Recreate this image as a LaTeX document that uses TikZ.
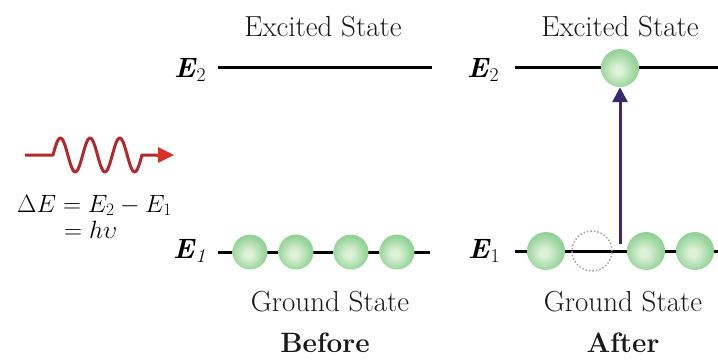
\RequirePackage{fix-cm}
\documentclass[tikz,border=0pt]{standalone}
\usetikzlibrary{arrows.meta}
\definecolor{wavered}{RGB}{178,40,44}
\definecolor{arrowred}{RGB}{218,48,40}
\definecolor{arrowpurple}{RGB}{58,42,108}
\definecolor{ballin}{RGB}{222,242,216}
\definecolor{ballmid}{RGB}{150,212,154}
\definecolor{ballout}{RGB}{104,170,114}
\pgfdeclareradialshading{greenball}{\pgfpoint{-3bp}{-3bp}}{color(0bp)=(ballin); color(5bp)=(ballin); color(24bp)=(ballmid); color(44bp)=(ballmid!60!ballout); color(52bp)=(ballout); color(100bp)=(ballout)}
\begin{document}
\begin{tikzpicture}[x=1pt,y=-1pt,
  txt/.style={font=\fontsize{29}{32}\selectfont, inner sep=0pt, anchor=base, text=black!90},
  boldtxt/.style={font=\fontsize{28}{32}\selectfont\bfseries, inner sep=0pt, anchor=base, text=black!90},
  elabel/.style={font=\fontsize{28}{32}\selectfont, inner sep=0pt, anchor=base west},
  formula/.style={font=\fontsize{25}{30}\selectfont, inner sep=0pt, anchor=base west},
  level/.style={line width=3pt, black},
  ballL/.style={circle, shading=greenball, minimum size=35pt, inner sep=0pt},
  ballR/.style={circle, shading=greenball, minimum size=38pt, inner sep=0pt},
  hole/.style={circle, draw=gray!75, dotted, line width=1.5pt, minimum size=40pt, inner sep=0pt},
  photon/.style={wavered, line width=3pt},
  jump/.style={arrowpurple, line width=3pt, -{Triangle[length=15pt,width=15pt]}}
]
\useasboundingbox (0,0) rectangle (718,362);

% titles
\node[txt] (exL) at (323,36) {Excited State};
\node[txt] (exR) at (620,36) {Excited State};
\node[txt] (grL) at (330,311) {Ground State};
\node[txt] (grR) at (623,311) {Ground State};
\node[boldtxt] (before) at (325,352) {Before};
\node[boldtxt] (after) at (623,352) {After};

% level labels
\node[elabel] (e2L) at (174,77) {\textbf{\textit{E}}$_2$};
\node[elabel] (e2R) at (467,77) {\textbf{\textit{E}}$_2$};
\node[elabel] (e1L) at (173,258) {\textbf{\textit{E}}$_{\mathit{1}}$};
\node[elabel] (e1R) at (468,258) {\textbf{\textit{E}}$_1$};

% level lines
\coordinate (l2La) at (218,67); \coordinate (l2Lb) at (432,67);
\coordinate (l2Ra) at (515,67); \coordinate (l2Rb) at (718,67);
\coordinate (l1La) at (218,252); \coordinate (l1Lb) at (430,252);
\coordinate (l1Ra) at (515,251); \coordinate (l1Rb) at (718,251);
\draw[level] (l2La) -- (l2Lb);
\draw[level] (l2Ra) -- (l2Rb);
\draw[level] (l1La) -- (l1Lb);
\draw[level] (l1Ra) -- (l1Rb);

% balls before
\node[ballL] (b1) at (250,252) {};
\node[ballL] (b2) at (296,252) {};
\node[ballL] (b3) at (351,252) {};
\node[ballL] (b4) at (397,252) {};

% balls after
\node[ballR] (a1) at (546,251) {};
\node[hole] (a2) at (592,251) {};
\node[ballR] (a3) at (646,251) {};
\node[ballR] (a4) at (695,251) {};
\node[ballR] (ex) at (620,68) {};

% excitation arrow
\coordinate (jumpstart) at (620,244);
\draw[jump] (jumpstart) -- (ex.south);

% photon
\coordinate (w0) at (25,155);
\coordinate (w1) at (53,155);
\coordinate (w3) at (174,155);
\draw[photon, line join=round] (w0) -- (w1)
  -- plot[domain=53:142, samples=120, smooth] (\x, {155-17*sin(12.1348*(\x-53))})
  -- (158,155);
\draw[arrowred, -{Triangle[length=16pt,width=15pt]}, line width=3pt] (156,155) -- (w3);

% formula
\node[formula] (f1) at (17,212) {$\Delta E = E_2 - E_1$};
\node[formula] (f2) at (64,238) {$= h\upsilon$};
\end{tikzpicture}
\end{document}
